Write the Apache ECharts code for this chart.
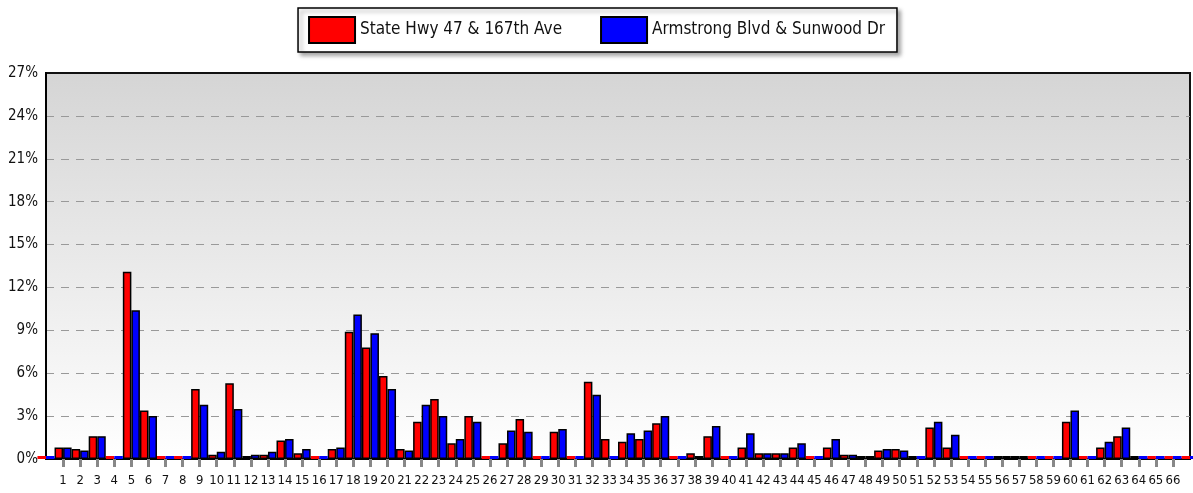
<!DOCTYPE html>
<html>
<head>
<meta charset="utf-8">
<script src="https://cdn.jsdelivr.net/npm/echarts@6/dist/echarts.min.js"></script>
<style>
html,body{margin:0;padding:0;background:#fff;}
#chart{width:1193px;height:493px;}
</style>
</head>
<body>
<div id="chart"></div>
<script>
// Category labels (index 0 and 67 are unlabeled edge slots)
const categories = ['', '1','2','3','4','5','6','7','8','9','10','11','12','13','14','15','16','17','18','19','20',
  '21','22','23','24','25','26','27','28','29','30','31','32','33','34','35','36','37','38','39','40',
  '41','42','43','44','45','46','47','48','49','50','51','52','53','54','55','56','57','58','59','60',
  '61','62','63','64','65','66', ''];

const seriesNames = ['State Hwy 47 & 167th Ave', 'Armstrong Blvd & Sunwood Dr'];

const redValues = [0,
  0.8, 0.7, 1.6, 0, 13.1, 3.4, 0, 0, 4.9, 0.3,
  5.3, 0.2, 0.3, 1.3, 0.4, 0, 0.7, 8.9, 7.8, 5.8,
  0.7, 2.6, 4.2, 1.1, 3.0, 0, 1.1, 2.8, 0, 1.9,
  0, 5.4, 1.4, 1.2, 1.4, 2.5, 0, 0.4, 1.6, 0,
  0.8, 0.4, 0.4, 0.8, 0, 0.8, 0.3, 0.1, 0.6, 0.7,
  0.1, 2.2, 0.8, 0, 0, 0.1, 0.1, 0, 0, 2.6,
  0, 0.8, 1.6, 0.1, 0, 0,
  0];

const blueValues = [0,
  0.8, 0.6, 1.6, 0, 10.4, 3.0, 0, 0, 3.8, 0.5,
  3.5, 0.3, 0.5, 1.4, 0.7, 0, 0.8, 10.1, 8.8, 4.9,
  0.6, 3.8, 3.0, 1.4, 2.6, 0, 2.0, 1.9, 0, 2.1,
  0, 4.5, 0, 1.8, 2.0, 3.0, 0, 0.1, 2.3, 0,
  1.8, 0.4, 0.4, 1.1, 0, 1.4, 0.3, 0.1, 0.7, 0.6,
  0, 2.6, 1.7, 0, 0, 0.1, 0.1, 0, 0, 3.4,
  0, 1.2, 2.2, 0, 0, 0,
  0];

const yMin = 0, yMax = 27, yStep = 3;

const FONT = "'Liberation Sans Narrow', 'DejaVu Sans Condensed', 'Arial Narrow', sans-serif";

function toData(arr) {
  return arr.map(v => v === 0 ? { value: v, itemStyle: { borderWidth: 0 } } : v);
}

const chart = echarts.init(document.getElementById('chart'), null, { renderer: 'canvas' });
chart.setOption({
  animation: false,
  legend: {
    top: 8,
    left: 'center',
    data: seriesNames,
    itemWidth: 46,
    itemHeight: 26,
    itemGap: 38,
    padding: [8, 12, 8, 10],
    backgroundColor: '#fff',
    borderColor: '#000',
    borderWidth: 1.5,
    shadowColor: 'rgba(0,0,0,0.35)',
    shadowBlur: 4,
    shadowOffsetX: 3,
    shadowOffsetY: 3,
    textStyle: { fontFamily: FONT, fontSize: 17, color: '#111' },
    icon: 'rect'
  },
  grid: {
    left: 46, right: 2, top: 73, bottom: 34,
    show: true,
    borderColor: '#111',
    borderWidth: 2,
    backgroundColor: {
      type: 'linear', x: 0, y: 0, x2: 0, y2: 1,
      colorStops: [{ offset: 0, color: '#d5d5d5' }, { offset: 1, color: '#ffffff' }]
    }
  },
  xAxis: {
    type: 'category',
    data: categories,
    boundaryGap: false,
    axisLine: { show: true, lineStyle: { color: '#000', width: 2 } },
    axisTick: {
      show: true,
      interval: (i) => i >= 1 && i <= 66,
      length: 8,
      lineStyle: { color: '#888', width: 3 }
    },
    axisLabel: {
      interval: 0,
      margin: 15,
      fontFamily: FONT,
      fontSize: 13,
      color: '#111'
    },
    splitLine: { show: false }
  },
  yAxis: {
    type: 'value',
    min: yMin, max: yMax, interval: yStep,
    axisLine: { show: true, lineStyle: { color: '#000', width: 2 } },
    axisTick: { show: false },
    axisLabel: {
      formatter: v => v + '%',
      fontFamily: FONT,
      fontSize: 15,
      color: '#111',
      margin: 8
    },
    splitLine: { show: true, showMaxLine: false, showMinLine: false, lineStyle: { color: '#999', type: [8, 7], width: 1 } }
  },
  series: [
    {
      name: seriesNames[0],
      type: 'bar',
      data: toData(redValues),
      barWidth: '50%',
      barGap: '0%',
      barCategoryGap: '0%',
      barMinHeight: 3,
      clip: true,
      itemStyle: { color: '#ff0000', borderColor: '#000', borderWidth: 1.5 }
    },
    {
      name: seriesNames[1],
      type: 'bar',
      data: toData(blueValues),
      barWidth: '50%',
      barGap: '0%',
      barMinHeight: 3,
      clip: true,
      itemStyle: { color: '#0000ff', borderColor: '#000', borderWidth: 1.5 }
    }
  ]
});
</script>
</body>
</html>
